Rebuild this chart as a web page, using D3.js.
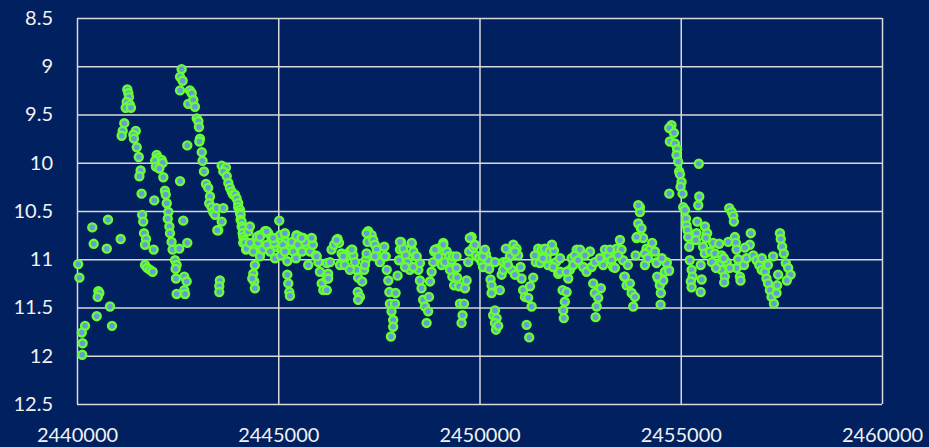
<!DOCTYPE html>
<html>
<head>
<meta charset="utf-8">
<script src="https://cdn.jsdelivr.net/npm/d3@7"></script>
<style>
    html, body { margin: 0; padding: 0; background: #002060; }
    svg { display: block; }
</style>
</head>
<body>
<svg id="chart" width="929" height="447"></svg>
<script>
// axis ticks
var xTicks = [2440000, 2445000, 2450000, 2455000, 2460000];
var yTicks = [8.5, 9, 9.5, 10, 10.5, 11, 11.5, 12, 12.5];

var early = [
    [2440030, 11.05], [2440060, 11.19], [2440200, 11.69], [2440120, 11.76], [2440140, 11.87],
    [2440130, 11.99], [2440380, 10.67], [2440415, 10.84], [2440490, 11.59], [2440530, 11.33],
    [2440555, 11.35], [2440515, 11.39], [2440740, 10.89], [2440770, 10.59], [2440820, 11.49],
    [2440870, 11.69], [2441085, 10.79]
];

var burst1 = [
    [2441250, 9.24], [2441275, 9.28], [2441290, 9.32], [2441235, 9.37], [2441315, 9.40],
    [2441210, 9.43], [2441340, 9.43], [2441175, 9.59], [2441135, 9.67], [2441110, 9.72],
    [2441460, 9.67], [2441400, 9.71], [2441415, 9.75], [2441485, 9.84], [2441535, 9.94],
    [2441580, 10.08], [2441550, 10.14], [2441605, 10.32], [2441620, 10.54], [2441645, 10.61],
    [2441665, 10.73], [2441715, 10.79], [2441690, 10.85], [2441905, 10.90], [2441690, 11.06],
    [2441745, 11.09], [2441815, 11.11], [2441880, 11.13], [2441920, 10.39],
    [2441980, 9.92], [2442020, 9.95], [2441940, 9.98], [2442105, 9.97], [2442130, 10.00],
    [2441960, 10.04], [2442045, 10.06], [2442145, 10.15], [2442185, 10.29], [2442205, 10.33],
    [2442230, 10.42], [2442270, 10.51], [2442255, 10.58], [2442295, 10.66], [2442310, 10.73],
    [2442350, 10.82], [2442375, 10.90], [2442435, 11.01], [2442475, 11.06], [2442450, 11.10],
    [2442460, 11.20], [2442475, 11.36], [2442540, 10.89], [2442560, 10.19], [2442640, 10.60],
    [2442665, 11.18], [2442725, 11.23], [2442665, 11.32], [2442685, 11.36], [2442740, 10.83]
];

var burst2 = [
    [2442600, 9.03], [2442560, 9.11], [2442625, 9.15], [2442560, 9.25], [2442740, 9.82],
    [2442765, 9.39], [2442805, 9.25], [2442850, 9.28], [2442890, 9.35], [2442930, 9.42],
    [2442975, 9.54], [2443015, 9.57], [2443030, 9.63], [2443055, 9.75], [2443040, 9.78],
    [2443100, 9.89], [2443120, 9.98], [2443155, 10.09], [2443205, 10.22], [2443260, 10.26],
    [2443305, 10.35], [2443285, 10.42], [2443345, 10.46], [2443385, 10.51], [2443430, 10.54],
    [2443470, 10.47], [2443510, 10.70], [2443595, 10.61], [2443635, 10.47], [2443550, 11.22],
    [2443535, 11.28], [2443535, 11.34], [2443485, 10.70],
    [2443595, 10.03], [2443700, 10.05], [2443635, 10.09], [2443720, 10.14], [2443760, 10.21],
    [2443800, 10.26], [2443845, 10.30], [2443880, 10.33], [2443925, 10.33], [2443965, 10.37],
    [2444005, 10.42], [2444005, 10.46], [2444050, 10.49], [2444050, 10.52], [2444065, 10.54],
    [2444065, 10.59], [2444090, 10.61], [2444090, 10.66], [2444115, 10.68], [2444115, 10.73],
    [2444130, 10.77], [2444150, 10.80], [2444130, 10.83], [2444175, 10.83], [2444200, 10.90],
    [2444215, 10.89], [2444255, 10.71], [2444295, 10.66], [2444295, 10.83]
];

var quiet1 = [
    [2444420, 11.06], [2444380, 11.15], [2444405, 11.23], [2444420, 11.30], [2444355, 11.20],
    [2444465, 10.77], [2444545, 10.75], [2444670, 10.71], [2444750, 10.73], [2444835, 10.78],
    [2444590, 10.89], [2444545, 10.97], [2444380, 10.92], [2444920, 10.99], [2444960, 10.87],
    [2445025, 10.60], [2445045, 10.75], [2445165, 10.74], [2445190, 10.82], [2445085, 10.89],
    [2445060, 10.96], [2445225, 11.02], [2445225, 11.16], [2445250, 11.25], [2445275, 11.34],
    [2445290, 11.38], [2445310, 10.90], [2445375, 10.92], [2445455, 10.75], [2445540, 10.77],
    [2445620, 10.78], [2445705, 10.89], [2445830, 10.79], [2445790, 10.92], [2445745, 11.06],
    [2445995, 11.03], [2446035, 11.13], [2446080, 11.25], [2446120, 11.32], [2446205, 11.20],
    [2445935, 10.96], [2444495, 10.83], [2444620, 10.90], [2444720, 10.85], [2444795, 10.92],
    [2444895, 10.83], [2445115, 10.85], [2445340, 10.82], [2445490, 10.85], [2445590, 10.92],
    [2445665, 10.82], [2445860, 10.85], [2445440, 10.99], [2445165, 10.92],
    [2444545, 10.77], [2444710, 10.71], [2444875, 10.78], [2445165, 10.73], [2445455, 10.76],
    [2445580, 10.78], [2445830, 10.78], [2445955, 10.97], [2446205, 11.04]
];

var quiet2 = [
    [2446205, 11.32], [2446240, 11.15], [2446285, 11.03], [2446325, 10.90], [2446390, 10.85],
    [2446475, 10.79], [2446510, 10.83], [2446575, 10.94], [2446615, 11.04], [2446535, 11.06],
    [2446700, 10.97], [2446780, 10.92], [2446840, 10.90], [2446865, 10.96], [2446905, 11.03],
    [2446950, 11.11], [2446985, 11.19], [2446975, 11.34], [2447030, 11.39], [2446985, 11.42],
    [2447085, 11.23], [2447135, 11.11], [2447170, 11.01], [2447195, 10.94], [2447220, 10.82],
    [2447235, 10.71], [2447320, 10.75], [2447360, 10.80], [2447400, 10.85], [2447445, 10.90],
    [2447485, 10.97], [2447525, 11.03], [2447635, 10.87], [2447670, 10.97], [2447695, 11.11],
    [2447735, 11.22], [2447760, 11.34], [2447775, 11.46], [2447815, 11.54], [2447855, 11.63],
    [2447855, 11.70], [2447800, 11.80], [2447900, 11.46], [2447915, 11.35], [2447965, 11.17],
    [2448000, 11.01], [2448025, 10.90], [2448050, 10.82], [2448105, 10.89], [2448165, 10.96],
    [2448215, 11.03], [2448270, 11.11], [2448315, 10.84], [2448355, 10.92], [2448415, 10.97],
    [2448480, 11.11], [2448520, 11.22], [2448560, 11.30], [2448600, 11.42], [2448645, 11.49],
    [2448685, 11.66], [2448725, 11.54], [2448745, 11.39], [2448770, 11.23], [2448810, 11.13],
    [2448850, 11.03], [2448875, 10.92], [2448960, 10.89], [2449100, 10.83], [2449185, 10.92],
    [2449240, 10.97], [2449290, 11.06], [2449325, 11.18], [2449370, 11.27],
    [2446655, 11.06], [2446780, 11.11], [2447155, 11.06], [2447400, 10.97], [2448150, 11.08],
    [2448355, 11.08], [2448520, 11.04], [2448975, 10.97], [2449060, 11.06], [2449140, 11.03],
    [2449265, 11.11], [2446240, 11.20],
    [2446450, 10.80], [2446615, 10.97], [2446825, 10.90], [2447195, 10.73], [2447650, 10.97],
    [2448025, 10.82], [2448315, 10.83], [2448440, 10.97], [2448895, 10.90], [2449100, 10.85],
    [2449310, 11.01]
];

var quiet3 = [
    [2449345, 10.97], [2449430, 11.09], [2449445, 11.19], [2449495, 11.28], [2449515, 11.46],
    [2449580, 11.58], [2449555, 11.66], [2449615, 11.46], [2449640, 11.30], [2449680, 11.22],
    [2449720, 11.03], [2449745, 10.92], [2449805, 10.77], [2449845, 10.88], [2449910, 10.96],
    [2449995, 10.99], [2450055, 11.03], [2450090, 11.08], [2450160, 10.95], [2450215, 11.01],
    [2450240, 11.10], [2450275, 11.21], [2450300, 11.27], [2450300, 11.35], [2450340, 11.58],
    [2450385, 11.53], [2450425, 11.61], [2450385, 11.66], [2450410, 11.73], [2450465, 11.69],
    [2450505, 11.32], [2450550, 11.16], [2450590, 11.03], [2450655, 10.89], [2450755, 10.97],
    [2450800, 11.11], [2450840, 10.85], [2450920, 10.89], [2450960, 10.96], [2451020, 11.08],
    [2451045, 11.20], [2451085, 11.32], [2451130, 11.39], [2451210, 11.40], [2451295, 11.49],
    [2451255, 11.28], [2451335, 11.19], [2451170, 11.68], [2451235, 11.81], [2451400, 11.03],
    [2451460, 10.89], [2451545, 10.90], [2451625, 10.89], [2451705, 11.06], [2451750, 10.92],
    [2451850, 10.91], [2451900, 11.03], [2451955, 11.15], [2452000, 11.13], [2452065, 11.32],
    [2452120, 11.44], [2452080, 11.53], [2452095, 11.61], [2452165, 11.34], [2452205, 11.20],
    [2452245, 11.11], [2452290, 10.99], [2452415, 10.90], [2452450, 11.03],
    [2449430, 10.97], [2450090, 10.97], [2450590, 11.11], [2450675, 11.03], [2450880, 11.16],
    [2451500, 11.04], [2451665, 10.99], [2451830, 11.08], [2452165, 11.13], [2452330, 11.06],
    [2449760, 10.78], [2449885, 10.85], [2450135, 10.90], [2450385, 11.03], [2450705, 11.06],
    [2450880, 10.92], [2451375, 10.96], [2451575, 10.99], [2451800, 10.85], [2452000, 10.99],
    [2452370, 10.96]
];

var quiet4 = [
    [2452495, 10.90], [2452450, 11.01], [2452575, 11.08], [2452660, 11.13], [2452745, 10.92],
    [2452785, 11.08], [2452825, 11.25], [2452865, 11.35], [2452950, 11.40], [2452910, 11.49],
    [2452885, 11.60], [2453015, 11.30], [2453075, 11.06], [2453115, 10.90], [2453200, 10.96],
    [2453280, 11.01], [2453320, 11.08], [2453365, 11.09], [2453405, 10.89], [2453490, 10.80],
    [2453530, 10.90], [2453570, 11.01], [2453595, 11.18], [2453655, 11.27], [2453735, 11.25],
    [2453780, 11.35], [2453860, 11.39], [2453820, 11.49], [2453880, 10.96], [2453905, 10.78],
    [2453945, 10.63], [2453985, 10.46], [2453985, 10.51], [2454010, 10.68], [2454065, 10.78],
    [2454110, 11.06], [2454150, 10.89], [2454235, 10.90], [2454290, 10.83], [2454360, 10.92],
    [2454400, 11.03], [2454440, 11.20], [2454480, 11.27], [2454505, 11.35], [2454500, 11.47],
    [2454565, 11.22], [2454605, 11.13], [2454650, 11.03], [2454705, 11.11], [2453905, 10.77],
    [2454110, 10.94], [2454400, 11.04], [2454650, 11.04], [2454710, 11.12], [2454415, 11.18],
    [2453610, 11.18], [2453945, 10.44], [2454025, 10.68],
    [2452620, 10.96], [2452865, 11.03], [2452990, 10.99], [2453240, 10.90], [2453440, 10.96],
    [2453685, 11.06], [2454185, 10.99], [2454530, 10.99]
];

var burst3 = [
    [2454770, 9.61], [2454715, 9.64], [2454830, 9.69], [2454730, 9.78], [2454855, 9.80],
    [2454910, 9.86], [2454895, 9.92], [2454935, 9.99], [2454960, 10.09], [2454980, 10.12],
    [2455020, 10.20], [2454995, 10.25], [2455045, 10.32], [2454715, 10.32], [2455450, 10.01],
    [2455060, 10.46], [2455105, 10.49], [2455130, 10.58], [2455145, 10.65], [2455170, 10.70],
    [2455185, 10.77], [2455210, 10.87], [2455460, 10.35], [2455435, 10.44], [2455410, 10.61],
    [2455395, 10.73], [2455375, 10.80], [2455225, 11.01], [2455270, 11.11], [2455295, 11.18],
    [2455250, 11.23], [2455270, 11.29], [2455495, 11.06], [2455520, 11.21], [2455495, 11.34],
    [2455600, 10.66], [2455655, 10.73], [2455625, 10.78], [2455555, 10.87], [2455600, 10.94],
    [2455725, 10.92], [2455805, 10.83], [2455955, 10.84], [2455850, 10.94], [2456015, 10.96],
    [2455970, 11.06], [2456015, 11.11], [2456095, 11.18], [2456080, 11.24], [2456140, 11.03],
    [2456180, 10.82], [2456205, 10.47], [2456265, 10.51], [2456305, 10.55], [2456320, 10.61],
    [2456345, 10.77], [2456370, 10.83], [2456385, 10.90], [2456425, 11.00], [2456385, 11.09],
    [2456470, 11.18], [2456485, 11.22], [2456570, 11.06], [2456635, 10.99], [2456740, 10.73],
    [2456715, 10.85], [2456800, 10.96], [2456885, 11.01], [2456950, 11.06], [2457010, 11.11],
    [2457090, 11.13], [2457130, 11.20], [2457170, 11.25], [2457215, 11.32], [2457255, 11.39],
    [2457315, 11.46], [2457380, 11.35], [2457395, 11.27], [2457420, 11.16], [2457465, 10.73],
    [2457485, 10.79], [2457520, 10.87], [2457560, 10.94], [2457610, 11.04], [2457670, 11.09],
    [2457730, 11.16], [2457295, 10.97], [2455775, 11.03], [2456220, 11.09], [2456595, 10.88],
    [2457015, 10.99], [2457165, 11.06], [2457635, 11.22], [2455875, 11.09], [2456070, 10.99]
];

var observations = [].concat(early, burst1, burst2, quiet1, quiet2, quiet3, quiet4, burst3);

var svg = d3.select("#chart");

var plot = { left: 77, right: 882, top: 18, bottom: 404 };

var x = d3.scaleLinear()
    .domain([2440000, 2460000])
    .range([plot.left, plot.right]);

// magnitudes run downward: brighter at the top
var y = d3.scaleLinear()
    .domain([8.5, 12.5])
    .range([plot.top, plot.bottom]);

var GRID_COLOR = "#d9d9d9";
var LABEL_COLOR = "#f2f2f2";

// horizontal gridlines + magnitude labels
var yAxis = svg.append("g")
    .attr("transform", "translate(" + plot.left + ",0)")
    .call(d3.axisLeft(y)
        .tickValues(yTicks)
        .tickFormat(function(d) { return String(d); })
        .tickSize(-(plot.right - plot.left))
        .tickPadding(24));

// vertical gridlines + date labels
var xAxis = svg.append("g")
    .attr("transform", "translate(0," + plot.bottom + ")")
    .call(d3.axisBottom(x)
        .tickValues(xTicks)
        .tickFormat(function(d) { return String(d); })
        .tickSize(-(plot.bottom - plot.top))
        .tickPadding(24));

[yAxis, xAxis].forEach(function(axis) {
    axis.select(".domain").remove();
    axis.selectAll(".tick line")
        .attr("stroke", GRID_COLOR)
        .attr("stroke-width", 1.5);
    axis.selectAll(".tick text")
        .attr("fill", LABEL_COLOR)
        .style("font-family", "Lato, 'Open Sans', sans-serif")
        .style("font-size", "20px");
});

svg.append("g")
    .attr("class", "points")
    .selectAll("circle")
    .data(observations)
    .enter().append("circle")
    .attr("cx", function(d) { return x(d[0]); })
    .attr("cy", function(d) { return y(d[1]); })
    .attr("r", 4)
    .attr("fill", "#6a9bd8")
    .attr("stroke", "#66ff33")
    .attr("stroke-width", 2.4);
</script>
</body>
</html>
